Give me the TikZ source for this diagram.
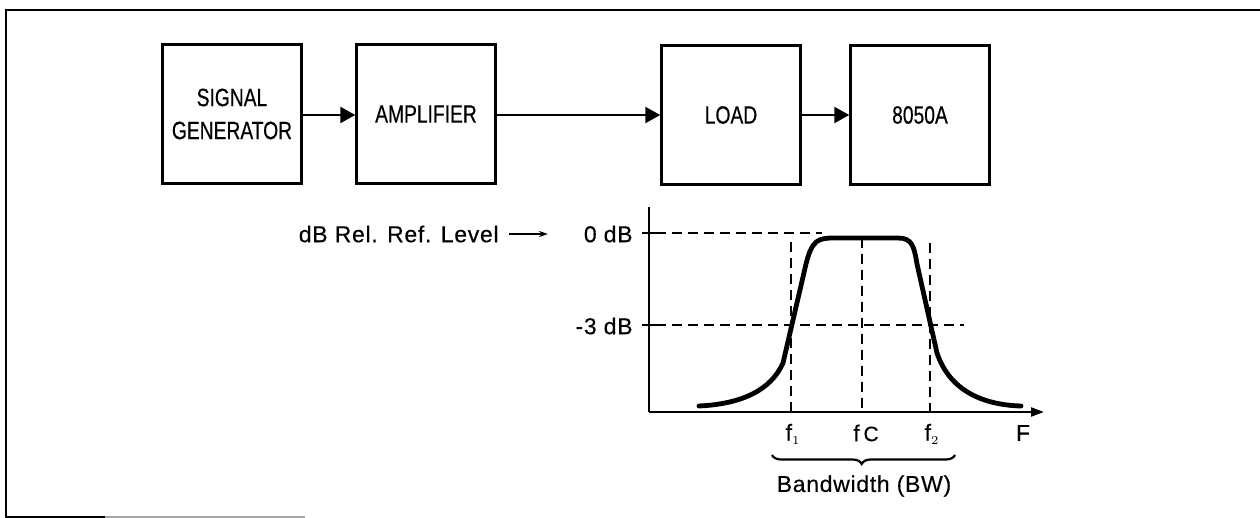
\documentclass[tikz,border=0pt]{standalone}
\usepackage{fontspec}
\newfontfamily\boxfont[FakeStretch=0.77,FakeBold=0.4]{Liberation Sans}
\newfontfamily\graphfont[LetterSpace=3,FakeBold=0.3]{Liberation Sans}
\usetikzlibrary{arrows.meta,decorations.pathreplacing}
\begin{document}
\begin{tikzpicture}[x=0.5pt,y=-0.5pt,
  blockbox/.style={draw,line width=1.2pt,minimum width=69.5pt,minimum height=69.5pt,inner sep=0pt,align=center,font=\boxfont\fontsize{12.5}{16.5}\selectfont},
  flow/.style={line width=1.1pt,-{Triangle[length=7.5pt,width=8pt]}},
  glabel/.style={font=\graphfont\fontsize{11.5}{13}\selectfont,inner sep=0pt},
  guide/.style={line width=1.1pt,dash pattern=on 5pt off 3pt},
  axis/.style={line width=1.1pt},
  resp/.style={line width=2.4pt,line cap=round,line join=round}]
\useasboundingbox (0,0) rectangle (1260,518);
% frame
\draw[line width=1.2pt] (1260,10) -- (6,10) -- (6,517) -- (105,517);
\draw[line width=1pt,black!35] (105,517) -- (305,517);
% blocks
\node[blockbox] (sg) at (232,114) {SIGNAL\\GENERATOR};
\node[blockbox] (amp) at (426,114) {AMPLIFIER};
\node[blockbox] (load) at (731,115) {LOAD};
\node[blockbox] (meter) at (920,115) {8050A};
\draw[flow] (sg.east |- 0,115) -- (amp.west |- 0,115);
\draw[flow] (amp.east |- 0,115) -- (load.west |- 0,115);
\draw[flow] (load.east |- 0,115) -- (meter.west |- 0,115);
% axes
\coordinate (o) at (649,412);
\coordinate (ytop) at (649,207);
\coordinate (xend) at (1044,412);
\draw[axis] (ytop) -- (o);
\draw[axis,-{Triangle[length=6.5pt,width=4.5pt]}] (o) -- (xend);
% level ticks and labels
\coordinate (t0l) at (642,233);
\coordinate (t0r) at (656,233);
\coordinate (t3l) at (642,325);
\coordinate (t3r) at (656,325);
\draw[axis] (t0l) -- (t0r);
\draw[axis] (t3l) -- (t3r);
\node[glabel,anchor=east] (l0) at (633,234) {0 dB};
\node[glabel,anchor=east] (l3) at (633,326) {-3 dB};
\node[glabel,anchor=east] (lref) at (499,234) {dB Rel. Ref. Level};
\coordinate (refarrow) at (548,234);
\draw[line width=0.8pt,-{Stealth[length=4.5pt,width=3pt]}] ([xshift=5pt]lref.east) -- (refarrow);
% guides
\coordinate (g0end) at (822,233);
\coordinate (g3end) at (964,325);
\draw[guide] (t0r) -- (g0end);
\draw[guide] (t3r) -- (g3end);
\coordinate (f1top) at (791,242);
\coordinate (f1bot) at (791,411);
\coordinate (fctop) at (862,238);
\coordinate (fcbot) at (862,411);
\coordinate (f2top) at (930,243);
\coordinate (f2bot) at (930,411);
\draw[guide] (f1top) -- (f1bot);
\draw[guide] (fctop) -- (fcbot);
\draw[guide] (f2top) -- (f2bot);
% response curve
\draw[resp] (699,406) .. controls (742,404) and (771,390) .. (783,363)
  -- (806,264) .. controls (812,240) and (818,238) .. (834,238)
  -- (898,238) .. controls (912,238) and (914,246) .. (917,264)
  -- (937,353) .. controls (950,392) and (985,405) .. (1021,406);
% frequency labels
\node[glabel] (f1) at (793,434) {f$_{\scriptscriptstyle 1}$};
\node[glabel] (fc) at (866,433) {f\,{\fontsize{10.5}{12}\selectfont C}};
\node[glabel] (f2) at (932,434) {f$_{\scriptscriptstyle 2}$};
\node[glabel] (fF) at (1023,433) {F};
% bandwidth brace
\coordinate (bl) at (772,455);
\coordinate (br) at (955,455);
\draw[line width=1.1pt,decorate,decoration={brace,mirror,amplitude=4.5pt,aspect=0.49}] (bl) -- (br);
\node[glabel] (bw) at (864,486) {Bandwidth (BW)};
\end{tikzpicture}
\end{document}
